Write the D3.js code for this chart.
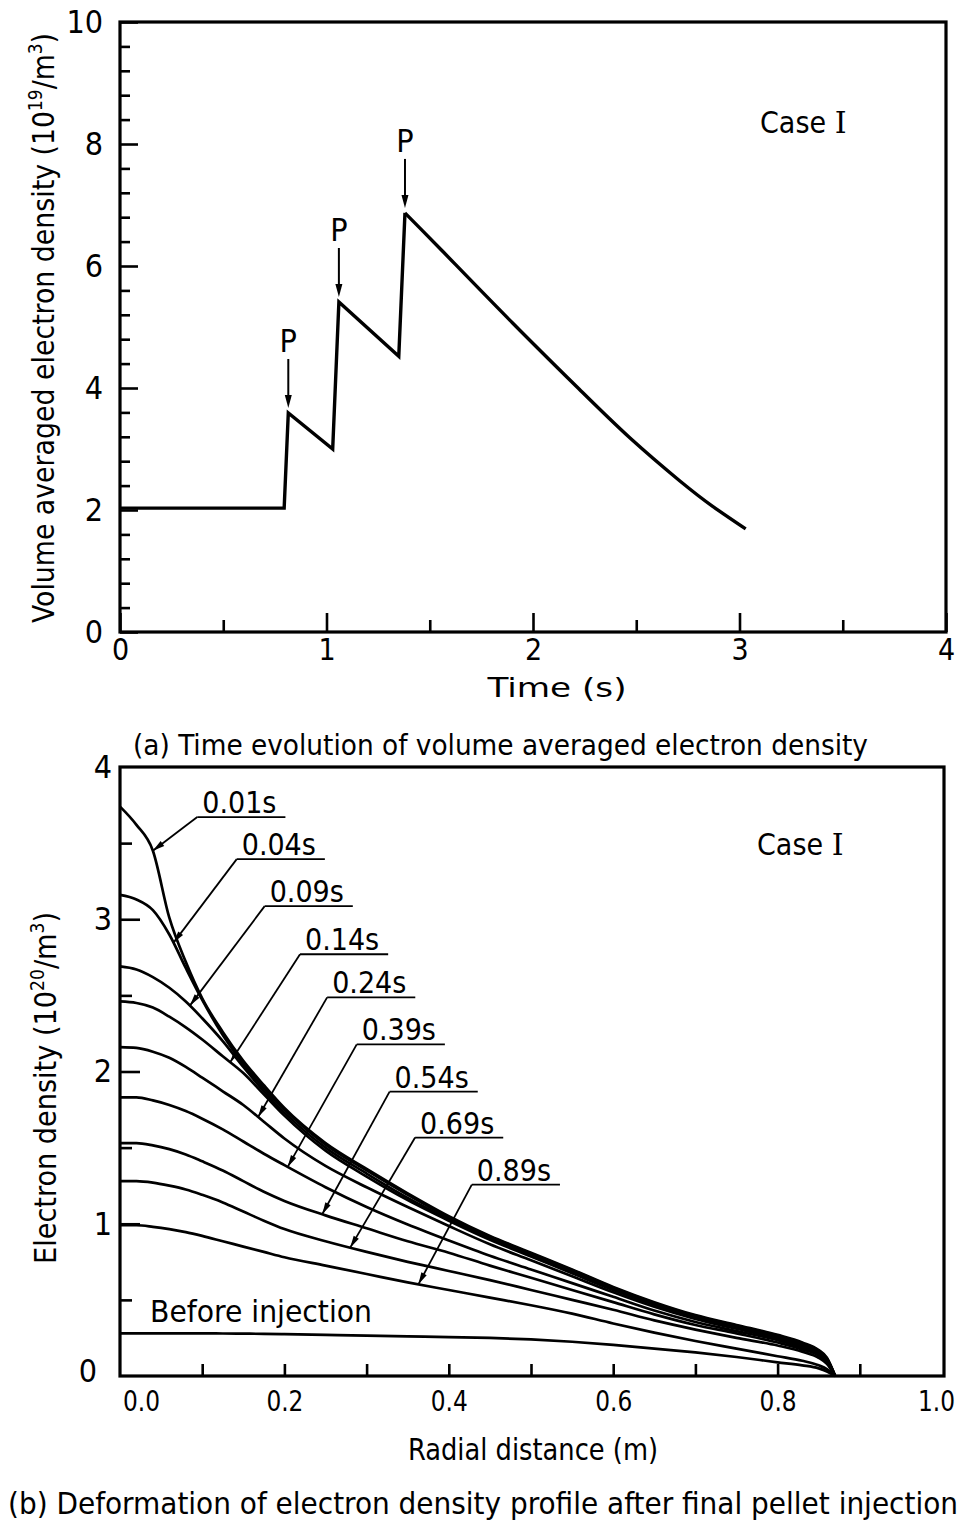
<!DOCTYPE html>
<html><head><meta charset="utf-8">
<script src="https://cdn.jsdelivr.net/npm/d3@7"></script>
<style>
body{margin:0;background:#fff}
svg{display:block}
</style></head><body>
<svg id="chart" width="961" height="1523"></svg>
<script>
// ---------------- Panel (a) data ----------------
const timeS      = [0, 0.795, 0.815, 1.03, 1.06, 1.35, 1.38, 1.56, 1.90, 2.23, 2.47, 2.71, 2.87, 3.03];
const avgDensity = [2.03, 2.03, 3.59, 3.00, 5.41, 4.52, 6.87, 6.25, 5.07, 3.96, 3.18, 2.48, 2.06, 1.69];
const pelletTimes = [0.815, 1.06, 1.38];
const pelletPeaks = [3.59, 5.41, 6.87];
const timeTicks = [0, 1, 2, 3, 4];
const timeMinorTicks = [0.5, 1.5, 2.5, 3.5];
const avgTicks = [0, 2, 4, 6, 8, 10];
const avgMinorTicks = [0.4,0.8,1.2,1.6,2.4,2.8,3.2,3.6,4.4,4.8,5.2,5.6,6.4,6.8,7.2,7.6,8.4,8.8,9.2,9.6];

// ---------------- Panel (b) data ----------------
const radialGrid = [0,0.02,0.04,0.06,0.08,0.10,0.125,0.15,0.175,0.20,0.25,0.30,0.35,0.40,0.45,0.50,0.55,0.60,0.65,0.70,0.75,0.80,0.83,0.85,0.86,0.87];
const n001 = [3.74,3.62,3.45,3.01,2.72,2.48,2.26,2.07,1.91,1.76,1.53,1.36,1.20,1.05,0.92,0.81,0.70,0.585,0.485,0.40,0.335,0.27,0.22,0.17,0.12,0.0];
const n004 = [3.16,3.13,3.06,2.90,2.68,2.47,2.24,2.05,1.89,1.75,1.52,1.35,1.19,1.04,0.915,0.805,0.695,0.58,0.48,0.395,0.33,0.265,0.215,0.165,0.115,0.0];
const n009 = [2.69,2.67,2.62,2.55,2.46,2.35,2.20,2.03,1.87,1.73,1.50,1.33,1.17,1.03,0.905,0.795,0.685,0.575,0.475,0.39,0.325,0.26,0.21,0.16,0.11,0.0];
const n014 = [2.46,2.45,2.42,2.36,2.29,2.21,2.10,1.99,1.85,1.71,1.48,1.31,1.155,1.02,0.895,0.785,0.675,0.565,0.468,0.385,0.32,0.255,0.205,0.155,0.105,0.0];
const n024 = [2.16,2.155,2.13,2.09,2.03,1.96,1.87,1.78,1.67,1.56,1.38,1.24,1.11,0.985,0.865,0.76,0.655,0.55,0.455,0.375,0.31,0.245,0.195,0.15,0.10,0.0];
const n039 = [1.83,1.83,1.81,1.78,1.74,1.69,1.62,1.54,1.46,1.385,1.24,1.11,0.995,0.89,0.79,0.70,0.61,0.52,0.43,0.355,0.295,0.235,0.185,0.14,0.095,0.0];
const n054 = [1.53,1.53,1.515,1.49,1.455,1.41,1.35,1.28,1.21,1.15,1.055,0.97,0.885,0.81,0.725,0.645,0.565,0.485,0.405,0.335,0.28,0.22,0.175,0.135,0.09,0.0];
const n069 = [1.28,1.28,1.27,1.25,1.225,1.19,1.14,1.08,1.02,0.965,0.885,0.815,0.75,0.69,0.63,0.565,0.50,0.435,0.365,0.305,0.25,0.20,0.16,0.12,0.08,0.0];
const n089 = [0.99,0.99,0.98,0.965,0.945,0.92,0.885,0.85,0.815,0.78,0.725,0.67,0.615,0.565,0.515,0.465,0.41,0.345,0.285,0.23,0.18,0.13,0.10,0.07,0.045,0.0];
const nBefore = [0.28,0.28,0.28,0.28,0.28,0.28,0.279,0.278,0.277,0.275,0.27,0.265,0.26,0.255,0.25,0.24,0.225,0.205,0.18,0.155,0.125,0.09,0.07,0.05,0.03,0.0];
const profileLabels = ["0.01s","0.04s","0.09s","0.14s","0.24s","0.39s","0.54s","0.69s","0.89s"];
const profiles = [n001,n004,n009,n014,n024,n039,n054,n069,n089];
// radial position where each label's leader meets its curve
const leaderTargets = [0.040,0.065,0.085,0.134,0.168,0.204,0.246,0.28,0.363];
// label anchor (left end of underline) in data units [r, density]
const labelAnchorR = [0.094,0.142,0.176,0.219,0.252,0.288,0.328,0.359,0.428];
const labelAnchorN = [3.671,3.395,3.086,2.770,2.487,2.178,1.868,1.566,1.257];
const radialTicks = [0.1,0.2,0.3,0.4,0.5,0.6,0.7,0.8,0.9];
const radialLabels = [0,0.2,0.4,0.6,0.8,1.0];
const densMajor = [1,2,3];
const densMinor = [0.5,1.5,2.5,3.5];
const densLabels = [0,1,2,3,4];

// ---------------- drawing ----------------
const FONT = "'DejaVu Sans Condensed','DejaVu Sans',sans-serif";
const svg = d3.select("#chart");
svg.append("rect").attr("width",961).attr("height",1523).attr("fill","#fff");

function styleAxis(g, fs){
  g.attr("font-family",null).attr("font-size",null);
  g.select(".domain").remove();
  g.selectAll("line").attr("stroke","#000").attr("stroke-width",2.6);
  g.selectAll("text").style("font-family",FONT).attr("font-size",fs).attr("fill","#000");
}
function addText(x,y,str,fs,opts={}){
  const t = svg.append("text").attr("x",x).attr("y",y).attr("font-size",fs)
    .style("font-family",FONT).attr("fill","#000").text(str);
  if(opts.anchor) t.attr("text-anchor",opts.anchor);
  if(opts.len) t.attr("textLength",opts.len).attr("lengthAdjust","spacingAndGlyphs");
  return t;
}

// ===== Panel (a) =====
const xA = d3.scaleLinear().domain([0,4]).range([120,946]);
const yA = d3.scaleLinear().domain([0,10]).range([632,22]);

svg.append("g").attr("transform","translate(0,632)")
  .call(d3.axisBottom(xA).tickValues(timeMinorTicks).tickSizeInner(-12).tickSizeOuter(0).tickFormat(""))
  .call(g=>styleAxis(g,32));
svg.append("g").attr("transform","translate(0,632)")
  .call(d3.axisBottom(xA).tickValues(timeTicks).tickSizeInner(-19).tickSizeOuter(0).tickPadding(7).tickFormat(d3.format("d")))
  .call(g=>styleAxis(g,30));
svg.append("g").attr("transform","translate(120,0)")
  .call(d3.axisLeft(yA).tickValues(avgMinorTicks).tickSizeInner(-10).tickSizeOuter(0).tickFormat(""))
  .call(g=>styleAxis(g,32));
svg.append("g").attr("transform","translate(120,0)")
  .call(d3.axisLeft(yA).tickValues(avgTicks).tickSizeInner(-18).tickSizeOuter(0).tickPadding(17).tickFormat(d3.format("d")))
  .call(g=>styleAxis(g,32));

svg.append("rect").attr("x",xA(0)).attr("y",yA(10)).attr("width",xA(4)-xA(0)).attr("height",yA(0)-yA(10))
  .attr("fill","none").attr("stroke","#000").attr("stroke-width",3.2);

const ptsA = timeS.map((t,i)=>[t,avgDensity[i]]);
svg.append("path").datum(ptsA.slice(0,7))
  .attr("d",d3.line().x(d=>xA(d[0])).y(d=>yA(d[1])))
  .attr("fill","none").attr("stroke","#000").attr("stroke-width",3.4).attr("stroke-linejoin","miter");
svg.append("path").datum(ptsA.slice(6))
  .attr("d",d3.line().curve(d3.curveNatural).x(d=>xA(d[0])).y(d=>yA(d[1])))
  .attr("fill","none").attr("stroke","#000").attr("stroke-width",3.4);

pelletTimes.forEach((t,i)=>{
  const px = xA(t), py = yA(pelletPeaks[i]);
  svg.append("line").attr("x1",px).attr("x2",px).attr("y1",py-54).attr("y2",py-16)
    .attr("stroke","#000").attr("stroke-width",2);
  svg.append("path").attr("d",`M${px-3.5},${py-18} L${px+3.5},${py-18} L${px},${py-5} Z`).attr("fill","#000");
  addText(px,py-61,"P",32,{anchor:"middle"});
});

const caseA = addText(760,133,"Case ",30);
caseA.append("tspan").style("font-family","'DejaVu Serif',serif").text("I");

addText(557,697,"Time  (s)",27,{anchor:"middle",len:139});
addText(133,755,"(a)  Time evolution of volume averaged electron density",29,{len:735});

const ylA = svg.append("text").attr("transform","translate(54,328) rotate(-90)")
  .attr("text-anchor","middle").attr("font-size",30).style("font-family",FONT).attr("fill","#000")
  .attr("textLength",590).attr("lengthAdjust","spacingAndGlyphs");
ylA.append("tspan").text("Volume averaged electron density  (10");
ylA.append("tspan").attr("font-size",19).attr("dy",-12).text("19");
ylA.append("tspan").attr("dy",12).text("/m");
ylA.append("tspan").attr("font-size",19).attr("dy",-12).text("3");
ylA.append("tspan").attr("dy",12).text(")");

// ===== Panel (b) =====
const xB = d3.scaleLinear().domain([0,1]).range([120,942]);
const yB = d3.scaleLinear().domain([0,4]).range([1376,767]);

svg.append("g").attr("transform","translate(0,1376)")
  .call(d3.axisBottom(xB).tickValues(radialTicks).tickSizeInner(-12).tickSizeOuter(0).tickFormat(""))
  .call(g=>styleAxis(g,32));
svg.append("g").attr("transform","translate(0,1376)")
  .call(d3.axisBottom(xB).tickValues(radialLabels).tickSizeInner(0).tickSizeOuter(0).tickPadding(15).tickFormat(d3.format(".1f")))
  .call(g=>styleAxis(g,28))
  .call(g=>g.selectAll("text").attr("textLength",37).attr("lengthAdjust","spacingAndGlyphs"))
  .call(g=>g.selectAll(".tick").filter(d=>d===0).select("text").attr("x",21))
  .call(g=>g.selectAll(".tick").filter(d=>d===1).select("text").attr("x",-6));
svg.append("g").attr("transform","translate(120,0)")
  .call(d3.axisLeft(yB).tickValues(densMinor).tickSizeInner(-12).tickSizeOuter(0).tickFormat(""))
  .call(g=>styleAxis(g,32));
svg.append("g").attr("transform","translate(120,0)")
  .call(d3.axisLeft(yB).tickValues(densMajor).tickSizeInner(-20).tickSizeOuter(0).tickFormat(""))
  .call(g=>styleAxis(g,32));
svg.append("g").attr("transform","translate(120,0)")
  .call(d3.axisLeft(yB).tickValues(densLabels).tickSizeInner(0).tickSizeOuter(0).tickPadding(8).tickFormat(d3.format("d")))
  .call(g=>styleAxis(g,32))
  .call(g=>g.selectAll(".tick").filter(d=>d===0).select("text").attr("x",-23).attr("y",-5));

svg.append("rect").attr("x",xB(0)).attr("y",yB(4)).attr("width",944-xB(0)).attr("height",yB(0)-yB(4))
  .attr("fill","none").attr("stroke","#000").attr("stroke-width",3.2);

const lineB = d3.line().curve(d3.curveMonotoneX).x(d=>xB(d[0])).y(d=>yB(d[1]));
profiles.concat([nBefore]).forEach(vals=>{
  svg.append("path").datum(radialGrid.map((r,i)=>[r,vals[i]]))
    .attr("d",lineB).attr("fill","none").attr("stroke","#000").attr("stroke-width",2.7);
});

function interp(vals, r){
  for(let i=0;i<radialGrid.length-1;i++){
    if(r>=radialGrid[i] && r<=radialGrid[i+1]){
      const f=(r-radialGrid[i])/(radialGrid[i+1]-radialGrid[i]);
      return vals[i]+f*(vals[i+1]-vals[i]);
    }
  }
  return vals[vals.length-1];
}

profileLabels.forEach((lab,i)=>{
  const ax = xB(labelAnchorR[i]), ay = yB(labelAnchorN[i]);
  const t = addText(ax+5, ay-4, lab, 30);
  const w = t.node().getComputedTextLength();
  svg.append("line").attr("x1",ax).attr("x2",ax+w+14).attr("y1",ay).attr("y2",ay)
    .attr("stroke","#000").attr("stroke-width",1.8);
  const tx = xB(leaderTargets[i]), ty = yB(interp(profiles[i], leaderTargets[i]));
  svg.append("line").attr("x1",ax).attr("y1",ay).attr("x2",tx).attr("y2",ty)
    .attr("stroke","#000").attr("stroke-width",1.8);
  const ang = Math.atan2(ty-ay, tx-ax);
  const L=12, W=3;
  const bx = tx - L*Math.cos(ang), by = ty - L*Math.sin(ang);
  svg.append("path").attr("d",`M${tx},${ty} L${bx - W*Math.sin(ang)},${by + W*Math.cos(ang)} L${bx + W*Math.sin(ang)},${by - W*Math.cos(ang)} Z`).attr("fill","#000");
});

addText(150,1322,"Before  injection",30,{len:222});
const caseB = addText(757,855,"Case ",30);
caseB.append("tspan").style("font-family","'DejaVu Serif',serif").text("I");

addText(533,1460,"Radial  distance  (m)",30,{anchor:"middle",len:250});
addText(8,1514,"(b) Deformation of electron density profile after final pellet injection",30,{len:950});

const ylB = svg.append("text").attr("transform","translate(56,1088) rotate(-90)")
  .attr("text-anchor","middle").attr("font-size",30).style("font-family",FONT).attr("fill","#000")
  .attr("textLength",352).attr("lengthAdjust","spacingAndGlyphs");
ylB.append("tspan").text("Electron density (10");
ylB.append("tspan").attr("font-size",19).attr("dy",-12).text("20");
ylB.append("tspan").attr("dy",12).text("/m");
ylB.append("tspan").attr("font-size",19).attr("dy",-12).text("3");
ylB.append("tspan").attr("dy",12).text(")");
</script>
</body></html>
